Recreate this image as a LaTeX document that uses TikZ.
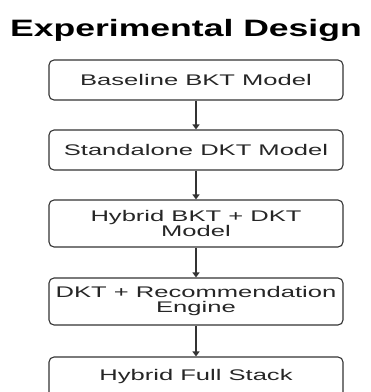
\documentclass[tikz,border=0pt]{standalone}
\usepackage{fontspec}
\usetikzlibrary{arrows.meta}
\newfontfamily\titlefont{Liberation Sans}[FakeStretch=1.5]
\newfontfamily\boxfont{Liberation Sans}[FakeStretch=1.66]
\definecolor{edgegray}{HTML}{333333}
\tikzset{
  stage/.style={draw=edgegray, line width=1.1pt, rounded corners=5pt,
    minimum width=294pt, align=center, inner sep=2pt,
    font=\boxfont\fontsize{15.4}{15}\selectfont, text=black!85},
  flowarrow/.style={draw=edgegray, line width=1.3pt,
    -{Triangle[length=5pt,width=7pt]}}
}
\begin{document}
\begin{tikzpicture}[x=1pt, y=-1pt]

    \useasboundingbox (0,0) rectangle (371,392);

    % ==========================================
    % 1. Titolo
    % ==========================================
    \node[anchor=base, font=\titlefont\bfseries\fontsize{23.7}{26}\selectfont] (title) at (186,36.7) {Experimental Design};

    % ==========================================
    % 2. Fasi sperimentali
    % ==========================================
    \node[stage, minimum height=40pt] (baseline) at (196,80) {Baseline BKT Model};
    \node[stage, minimum height=40pt] (standalone) at (196,150) {Standalone DKT Model};
    \node[stage, minimum height=47pt] (hybrid) at (196,223.5) {Hybrid BKT + DKT\\Model};
    \node[stage, minimum height=47pt] (engine) at (196,301.5) {DKT + Recommendation\\Engine};
    \node[stage, minimum height=40pt] (fullstack) at (196,377) {Hybrid Full Stack};

    % ==========================================
    % 3. Frecce tra le fasi
    % ==========================================
    \draw[flowarrow] (baseline) -- (standalone);
    \draw[flowarrow] (standalone) -- (hybrid);
    \draw[flowarrow] (hybrid) -- (engine);
    \draw[flowarrow] (engine) -- (fullstack);

\end{tikzpicture}
\end{document}
